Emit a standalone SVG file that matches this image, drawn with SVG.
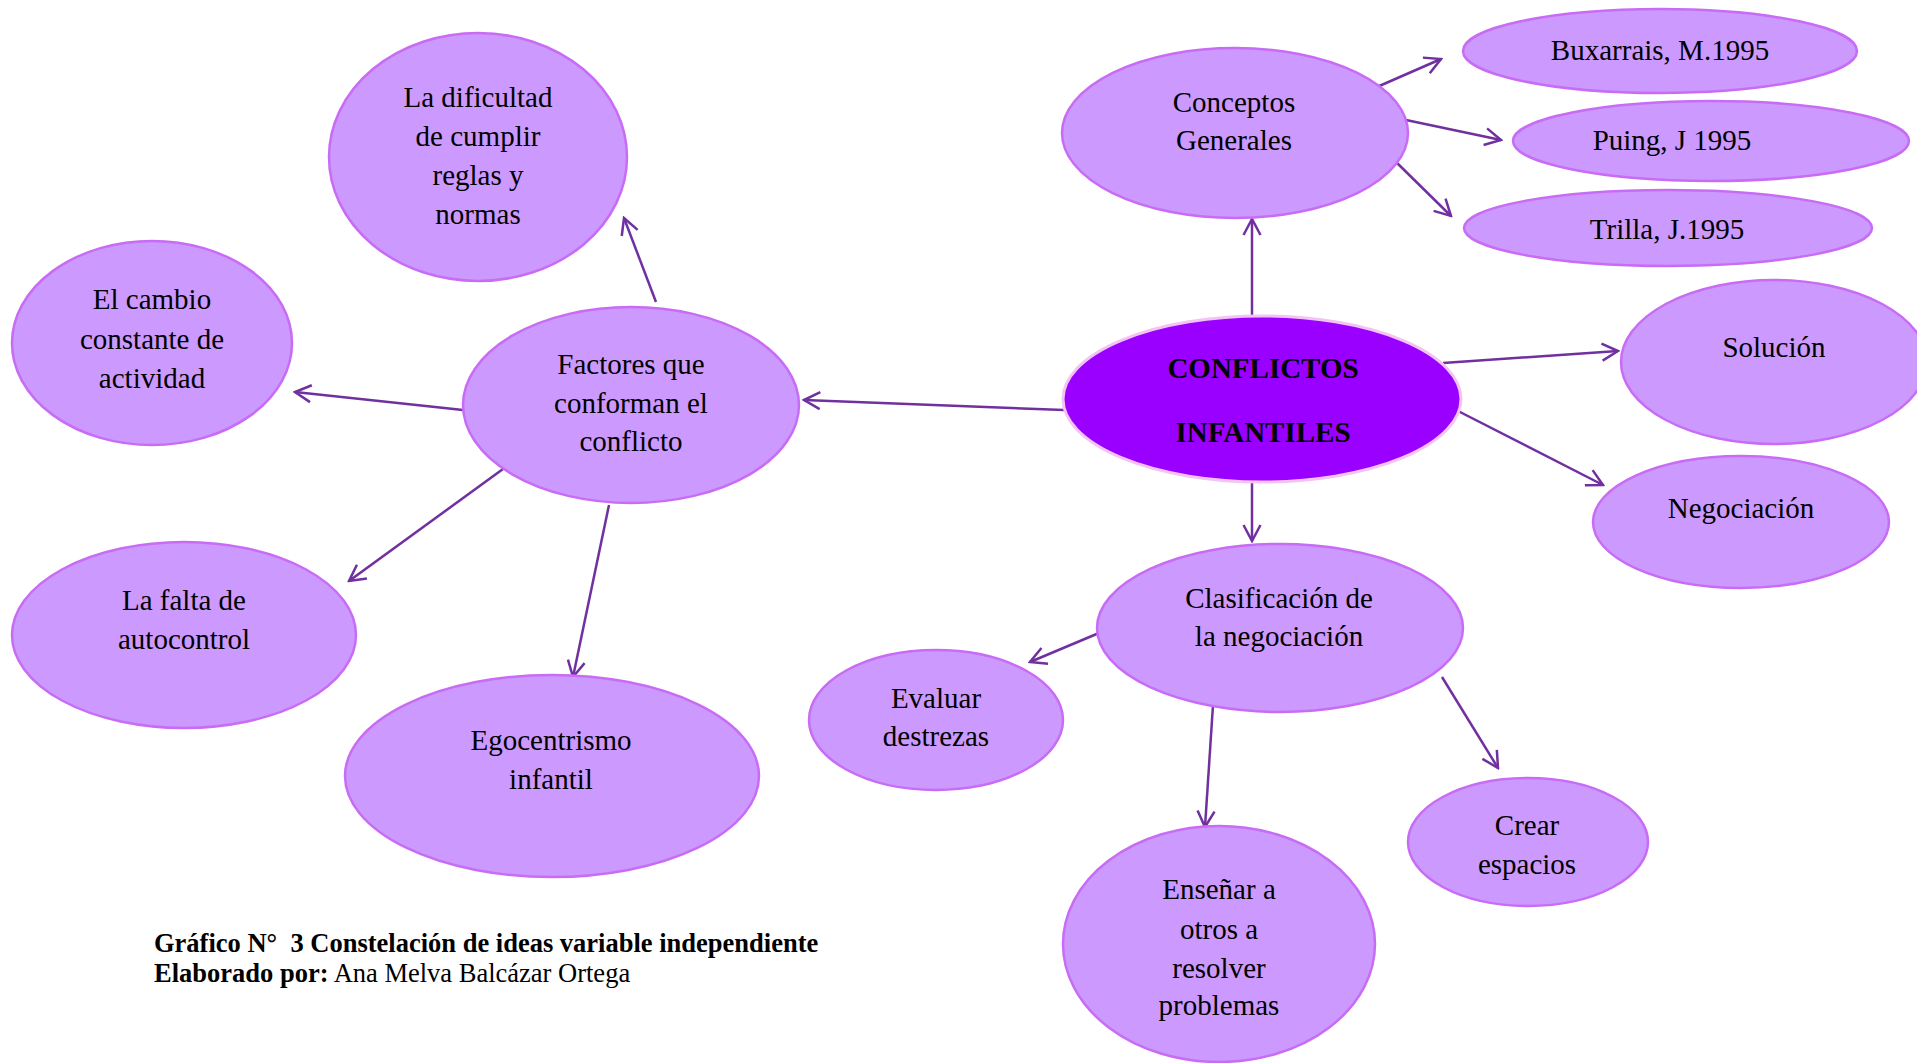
<svg xmlns="http://www.w3.org/2000/svg" width="1917" height="1063" viewBox="0 0 1917 1063">
<style>
.n{fill:#CC99FF;stroke:#C86CF5;stroke-width:2.5}
.c{fill:#9900FF;stroke:#F3C4F3;stroke-width:3}
.t{font-family:"Liberation Serif","Times New Roman",serif;font-size:29px;fill:#000;text-anchor:middle}
.b{font-weight:bold}
.l{stroke:#7030A0;stroke-width:2.5;fill:none;marker-end:url(#a)}
.cap{font-family:"Liberation Serif","Times New Roman",serif;font-size:26.5px;fill:#000}
</style>
<defs>
<marker id="a" viewBox="0 0 20 20" refX="18" refY="10" markerWidth="20" markerHeight="20" markerUnits="userSpaceOnUse" orient="auto">
<path d="M2,1.5 L18,10 L2,18.5" fill="none" stroke="#7030A0" stroke-width="2.5"/>
</marker>
</defs>
<rect width="1917" height="1063" fill="#fff"/>
<g id="connectors">
<line class="l" x1="1064" y1="410" x2="804" y2="400"/>
<line class="l" x1="463" y1="410" x2="295" y2="392"/>
<line class="l" x1="656" y1="302" x2="624" y2="218"/>
<line class="l" x1="503" y1="469" x2="349" y2="581"/>
<line class="l" x1="609" y1="505" x2="573" y2="677"/>
<line class="l" x1="1252" y1="316" x2="1252" y2="219"/>
<line class="l" x1="1377" y1="87" x2="1441" y2="59"/>
<line class="l" x1="1406" y1="120" x2="1501" y2="140"/>
<line class="l" x1="1394" y1="160" x2="1451" y2="216"/>
<line class="l" x1="1443" y1="363" x2="1618" y2="351"/>
<line class="l" x1="1458" y1="411" x2="1603" y2="485"/>
<line class="l" x1="1252" y1="483" x2="1252" y2="541"/>
<line class="l" x1="1099" y1="633" x2="1030" y2="662"/>
<line class="l" x1="1213" y1="705" x2="1205" y2="827"/>
<line class="l" x1="1442" y1="677" x2="1498" y2="768"/>
</g>
<g id="n-dificultad">
<ellipse class="n" cx="478" cy="157" rx="149" ry="124"/>
<text class="t" x="478"><tspan x="478" y="107">La dificultad</tspan><tspan x="478" y="146">de cumplir</tspan><tspan x="478" y="185">reglas y</tspan><tspan x="478" y="224">normas</tspan></text>
</g>
<g id="n-cambio">
<ellipse class="n" cx="152" cy="343" rx="140" ry="102"/>
<text class="t"><tspan x="152" y="309">El cambio</tspan><tspan x="152" y="349">constante de</tspan><tspan x="152" y="388">actividad</tspan></text>
</g>
<g id="n-factores">
<ellipse class="n" cx="631" cy="405" rx="168" ry="98"/>
<text class="t"><tspan x="631" y="374">Factores que</tspan><tspan x="631" y="413">conforman el</tspan><tspan x="631" y="451">conflicto</tspan></text>
</g>
<g id="n-conceptos">
<ellipse class="n" cx="1235" cy="133" rx="173" ry="85"/>
<text class="t"><tspan x="1234" y="112">Conceptos</tspan><tspan x="1234" y="150">Generales</tspan></text>
</g>
<g id="n-buxarrais">
<ellipse class="n" cx="1660" cy="51" rx="197" ry="42"/>
<text class="t" x="1660" y="60">Buxarrais, M.1995</text>
</g>
<g id="n-puing">
<ellipse class="n" cx="1711" cy="141" rx="198" ry="40"/>
<text class="t" x="1672" y="150">Puing, J 1995</text>
</g>
<g id="n-trilla">
<ellipse class="n" cx="1668" cy="228" rx="204" ry="38"/>
<text class="t" x="1667" y="239">Trilla, J.1995</text>
</g>
<g id="n-conflictos">
<ellipse class="c" cx="1262" cy="399" rx="199" ry="83"/>
<text class="t b"><tspan x="1263" y="378">CONFLICTOS</tspan><tspan x="1263" y="442">INFANTILES</tspan></text>
</g>
<g id="n-solucion">
<ellipse class="n" cx="1774" cy="362" rx="153" ry="82"/>
<text class="t" x="1774" y="357">Solución</text>
</g>
<g id="n-negociacion">
<ellipse class="n" cx="1741" cy="522" rx="148" ry="66"/>
<text class="t" x="1741" y="518">Negociación</text>
</g>
<g id="n-clasificacion">
<ellipse class="n" cx="1280" cy="628" rx="183" ry="84"/>
<text class="t"><tspan x="1279" y="608">Clasificación de</tspan><tspan x="1279" y="646">la negociación</tspan></text>
</g>
<g id="n-evaluar">
<ellipse class="n" cx="936" cy="720" rx="127" ry="70"/>
<text class="t"><tspan x="936" y="708">Evaluar</tspan><tspan x="936" y="746">destrezas</tspan></text>
</g>
<g id="n-ensenar">
<ellipse class="n" cx="1219" cy="944" rx="156" ry="118"/>
<text class="t"><tspan x="1219" y="899">Enseñar a</tspan><tspan x="1219" y="939">otros a</tspan><tspan x="1219" y="978">resolver</tspan><tspan x="1219" y="1015">problemas</tspan></text>
</g>
<g id="n-crear">
<ellipse class="n" cx="1528" cy="842" rx="120" ry="64"/>
<text class="t"><tspan x="1527" y="835">Crear</tspan><tspan x="1527" y="874">espacios</tspan></text>
</g>
<g id="n-falta">
<ellipse class="n" cx="184" cy="635" rx="172" ry="93"/>
<text class="t"><tspan x="184" y="610">La falta de</tspan><tspan x="184" y="649">autocontrol</tspan></text>
</g>
<g id="n-egocentrismo">
<ellipse class="n" cx="552" cy="776" rx="207" ry="101"/>
<text class="t"><tspan x="551" y="750">Egocentrismo</tspan><tspan x="551" y="789">infantil</tspan></text>
</g>
<g id="caption">
<text class="cap b" x="154" y="952">Gráfico N°&#160; 3 Constelación de ideas variable independiente</text>
<text class="cap" x="154" y="982"><tspan font-weight="bold">Elaborado por:</tspan> Ana Melva Balcázar Ortega</text>
</g>
</svg>
